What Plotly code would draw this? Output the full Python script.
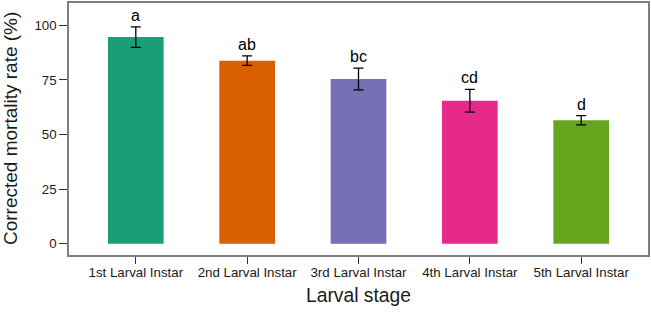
import plotly.graph_objects as go

stages = ["1st Larval Instar", "2nd Larval Instar", "3rd Larval Instar", "4th Larval Instar", "5th Larval Instar"]
mortality = [94.6, 83.8, 75.4, 65.4, 56.5]
errors = [4.7, 2.2, 5.0, 5.2, 2.1]
letters = ["a", "ab", "bc", "cd", "d"]
colors = ["#1B9E77", "#D95F02", "#7570B3", "#E7298A", "#66A61E"]
y_ticks = [0, 25, 50, 75, 100]

font_family = "Arial, Liberation Sans, Helvetica, sans-serif"

fig = go.Figure()
fig.add_trace(go.Bar(
    x=stages, y=mortality, width=0.5,
    marker=dict(color=colors, line=dict(width=0)),
    error_y=dict(type="data", array=errors, visible=True, color="black", thickness=1.3, width=5),
    showlegend=False,
))

for s, m, e, l in zip(stages, mortality, errors, letters):
    fig.add_annotation(x=s, y=m + e, text=l, showarrow=False, yanchor="bottom", yshift=1,
                       font=dict(size=16, color="black", family=font_family))

# y-axis title as a rotated annotation for precise placement
fig.add_annotation(xref="paper", yref="paper", x=0, y=0.5, xshift=-59, text="Corrected mortality rate (%)",
                   textangle=-90, showarrow=False, xanchor="center", yanchor="middle",
                   font=dict(size=19, color="#1a1a1a", family=font_family))

fig.update_layout(
    width=651, height=313,
    margin=dict(l=69, r=2, t=1, b=58),
    paper_bgcolor="white", plot_bgcolor="white",
    font=dict(family=font_family, color="#222"),
    bargap=0.5,
)
fig.update_xaxes(
    range=[-0.6, 4.6], showgrid=False, zeroline=False,
    showline=True, linecolor="#7f7f7f", linewidth=1.5, mirror=True,
    ticks="outside", ticklen=7, tickcolor="#333", tickwidth=1,
    ticklabelstandoff=-3,
    tickfont=dict(size=13.3, color="#1a1a1a"),
    title=dict(text="Larval stage", font=dict(size=19.3, color="#1a1a1a"), standoff=10),
)
fig.update_yaxes(
    range=[-5.2, 110.2], showgrid=False, zeroline=False,
    showline=True, linecolor="#7f7f7f", linewidth=1.5, mirror=True,
    tickvals=y_ticks, ticks="outside", ticklen=8, tickcolor="#333", tickwidth=1,
    tickfont=dict(size=13.3, color="#1a1a1a"),
)

fig.write_html("out.html", config={"displayModeBar": False},
               post_script="document.body.style.margin='0';document.body.style.padding='0';")
